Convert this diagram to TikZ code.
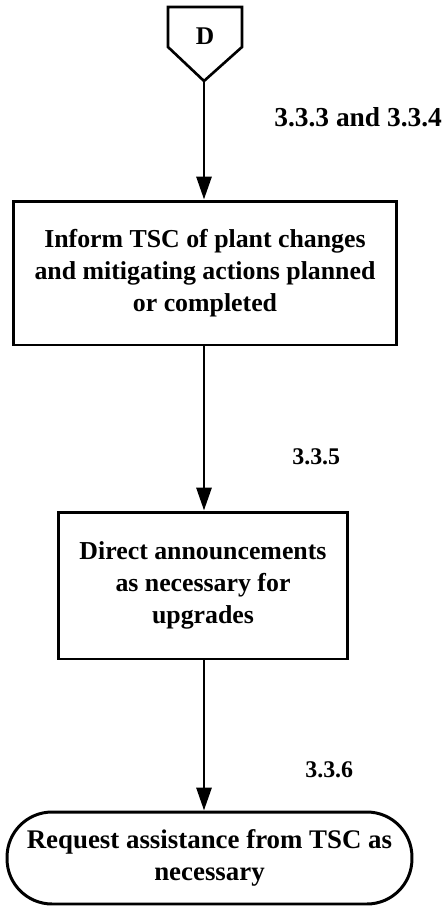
\documentclass[tikz,border=0pt]{standalone}
\usepackage{fontspec}
\setmainfont{Liberation Serif}
\usetikzlibrary{arrows.meta,positioning}

\begin{document}
\begin{tikzpicture}[
    x=0.02cm, y=-0.02cm,
    flow/.style={-{Triangle[length=0.46cm, width=0.3cm]}, line width=1.7pt},
    procbox/.style={draw, line width=1.7pt, align=center, font=\fontsize{14.7}{18.4}\selectfont\bfseries},
    termbox/.style={draw, line width=1.7pt, rounded corners=0.9cm, align=center, font=\fontsize{15.3}{18.2}\selectfont\bfseries},
    reflab/.style={anchor=base west, inner sep=0pt, font=\fontsize{13.6}{16}\selectfont\bfseries},
]
    \useasboundingbox (0,0) rectangle (446,907);
    \draw[line width=1.5pt, line join=miter] (168,7) -- (242,7) -- (242,47) -- (204,81) -- (168,47) -- cycle;
    \node[font=\fontsize{14.5}{16}\selectfont\bfseries] (conD) at (205,36) {D};
    \coordinate (conDtip) at (204,81);
    \node[procbox, minimum width=7.68cm, minimum height=2.88cm] (inform) at (205,273) {Inform TSC of plant changes\\and mitigating actions planned\\or completed};
    \node[procbox, minimum width=5.8cm, minimum height=2.94cm] (announce) at (203,585.5) {Direct announcements\\as necessary for\\upgrades};
    \node[termbox, minimum width=8.1cm, minimum height=1.84cm] (assist) at (209.5,858) {Request assistance from TSC as\\necessary};
    \draw[flow] (conDtip) -- (conDtip |- inform.north);
    \draw[flow] (inform.south -| conDtip) -- (conDtip |- announce.north);
    \draw[flow] (announce.south -| conDtip) -- (conDtip |- assist.north);
    \node[reflab, font=\fontsize{15.6}{18}\selectfont\bfseries] (ref334) at (274,126) {3.3.3 and 3.3.4};
    \node[reflab] (ref335) at (292,464) {3.3.5};
    \node[reflab] (ref336) at (305,777) {3.3.6};
\end{tikzpicture}
\end{document}
